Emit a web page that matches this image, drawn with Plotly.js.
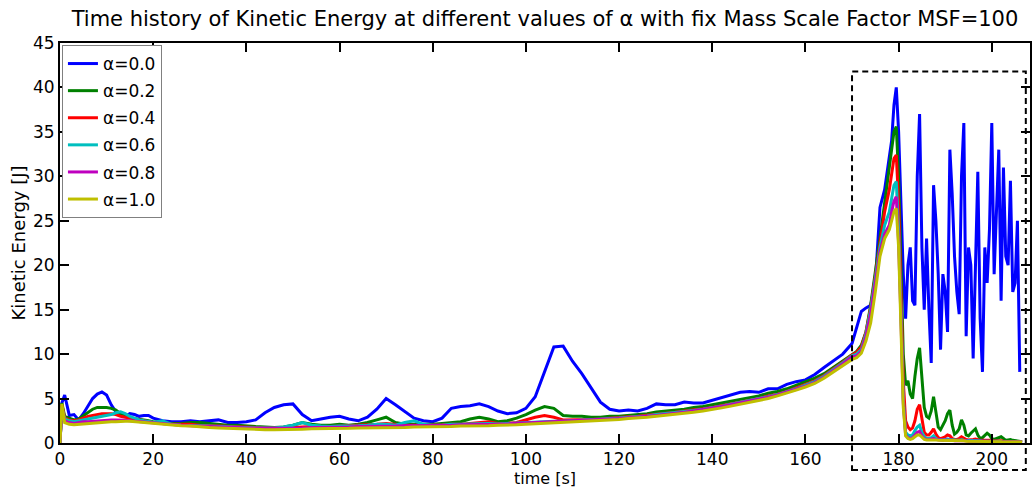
<!DOCTYPE html>
<html>
<head>
<meta charset="utf-8">
<script src="https://cdn.plot.ly/plotly-3.0.1.min.js"></script>
<style>html,body{margin:0;padding:0;background:#fff;}#chart{width:1032px;height:487px;}</style>
</head>
<body>
<div id="chart"></div>
<script>
// time [s]
var time = [0,0.4,1,2,3,4,5,6,7,8,9,10,11,12,13,14,15,16,17,18,19,20,
22,24,26,28,30,32,34,36,38,40,42,44,46,48,50,52,54,56,58,60,62,64,66,68,70,72,74,76,78,80,
82,84,86,88,90,92,94,96,98,100,102,104,106,108,110,112,114,116,118,120,122,124,126,128,130,
132,134,136,138,140,142,144,146,148,150,152,154,156,158,160,162,164,166,168,170,
171,172,173,174,175,176,177,178,
178.5,179,179.5,180,180.5,181,181.5,182,182.5,183,183.5,184,184.5,185,185.5,186,186.5,187,187.5,
188,188.5,189,189.5,190,190.5,191,191.5,192,192.5,193,193.5,194,194.5,195,195.5,196,196.5,197,
197.5,198,198.5,199,199.5,200,200.5,201,201.5,202,202.5,203,203.5,204,204.5,205,205.5,206,206.5];

var ke00 = [0,4.5,5.4,3.1,3.2,2.6,3.3,4.2,5.0,5.5,5.75,5.4,4.3,3.5,3.2,3.0,3.3,3.2,3.0,3.1,3.1,2.8,
2.5,2.4,2.4,2.5,2.4, 2.5,2.6,2.3,2.3,2.4, 2.6,3.4,4.0,4.3,4.4, 3.2,2.5,2.7,2.9,3.0, 2.7,2.5,2.9,3.8,5.0,
4.3,3.6,2.8,2.5,2.4, 2.8,3.9,4.1,4.2,4.4, 4.1,3.6,3.3,3.4,3.9, 5.2,8.1,10.8,10.9,9.2, 7.8,6.2,4.6,3.8,3.6,
3.7,3.6,3.9,4.4,4.3, 4.3,4.6,4.5,4.5,4.8, 5.1,5.4,5.7,5.8,5.7, 6.1,6.1,6.6,6.9,7.1, 7.7,8.5,9.2,10.0,11.2,
13,14.8,15.2,15.5,18,26.5,28.5,32,
34,38,40,35,27,19,14,20,22,16,15.5,30,37,22,15,23,15,9,29,25,19,10.5,19,17,12.5,33,28,21,17,14.5,
30,36,12,22,20,9.5,20,30.5,14,8,22,18,24,36,19,26,33,16,31,21,20,29.5,17,18,25,8,null];

var ke02 = [0,4.5,3.0,2.8,2.6,2.7,3.1,3.5,3.8,4.0,4.0,4.0,3.9,3.7,3.3,3.0,2.8,2.75,2.7,2.6,2.5,2.4,
2.3,2.2,2.2,2.3,2.3, 2.2,2.1,2.0,2.0,1.9, 1.85,1.8,1.75,1.8,2.0, 2.3,2.1,2.0,2.0,2.1, 2.0,2.1,2.3,2.6,2.9,
2.3,2.1,2.1,2.1,2.1, 2.2,2.3,2.4,2.7,2.9, 2.7,2.4,2.5,2.8,3.2, 3.7,4.1,3.9,3.1,3.0, 3.0,2.9,2.9,3.0,3.0,
3.1,3.2,3.3,3.5,3.6, 3.7,3.8,4.0,4.1,4.3, 4.5,4.7,4.9,5.1,5.3, 5.6,5.8,6.1,6.5,6.9, 7.3,7.8,8.5,9.3,10.0,
10.3,11,12.5,15.5,19,23,27,31,
33.5,35,35.6,30,20,10,6.5,7,5.5,5,7.5,9.5,10.7,7,4,3,2.8,3.6,5.2,3.5,1.8,1.5,2,2.5,3.3,3.7,2,1,1.2,1.6,
2.6,2,0.9,0.8,1.1,1.4,1.6,0.9,0.5,0.6,0.8,1.1,0.9,0.5,0.4,0.5,0.6,0.7,0.5,0.3,0.35,0.4,0.3,0.25,0.25,0.2,0.15];

var ke04 = [0,4.3,2.8,2.6,2.5,2.6,2.8,3.0,3.1,3.2,3.3,3.3,3.3,3.2,3.0,2.9,2.8,2.7,2.6,2.5,2.4,2.3,
2.2,2.1,2.1,2.1,2.0, 1.95,1.9,1.85,1.8,1.8, 1.75,1.7,1.7,1.7,1.75, 1.8,1.85,1.8,1.85,1.9, 1.9,1.95,2.0,2.1,2.2,
2.1,2.0,2.0,2.0,2.0, 2.05,2.1,2.1,2.2,2.3, 2.4,2.2,2.2,2.3,2.6, 2.9,3.1,2.9,2.6,2.6, 2.6,2.65,2.7,2.8,2.85,
2.95,3.0,3.1,3.25,3.35, 3.45,3.6,3.7,3.85,4.0, 4.2,4.4,4.6,4.8,5.0, 5.3,5.5,5.8,6.2,6.6, 7.0,7.6,8.3,9.1,9.9,
10.2,10.8,12.5,15.2,19,22.5,26,28.5,
30.5,32,32.4,27,17,7,2.5,1.8,1.5,1.7,2.5,3.8,4.3,2.5,1.2,0.9,0.9,1.2,1.6,1.0,0.6,0.5,0.6,0.7,0.9,0.8,0.5,0.4,0.4,0.5,
0.7,0.5,0.4,0.35,0.35,0.4,0.45,0.35,0.3,0.3,0.3,0.35,0.3,0.25,0.25,0.25,0.3,0.25,0.2,0.2,0.2,0.2,0.2,0.15,0.15,0.15,0.1];

var ke06 = [0,4.0,2.7,2.5,2.4,2.5,2.6,2.7,2.8,2.9,3.0,3.1,3.2,3.4,3.5,3.3,3.0,2.8,2.6,2.5,2.4,2.35,
2.5,2.1,2.0,2.0,1.95, 1.9,1.85,1.8,1.75,1.75, 1.7,1.7,1.7,1.8,2.0, 2.3,2.0,1.9,1.85,1.9, 1.9,1.95,2.0,2.1,2.1,
2.0,2.3,2.5,2.1,2.0, 2.0,2.1,2.1,2.15,2.2, 2.2,2.15,2.2,2.25,2.35, 2.4,2.45,2.45,2.45,2.5, 2.55,2.6,2.65,2.7,2.8,
2.9,2.95,3.05,3.2,3.3, 3.4,3.55,3.65,3.8,3.95, 4.15,4.35,4.55,4.75,4.95, 5.2,5.45,5.75,6.1,6.5, 6.9,7.5,8.2,9.0,9.8,
10,10.5,12.3,15,18.5,22,24.5,26,
27.5,29,29.4,24,15,5,1.2,0.9,0.8,0.9,1.4,1.8,2.0,1.2,0.7,0.5,0.5,0.6,0.8,0.5,0.4,0.35,0.35,0.4,0.45,0.4,0.35,0.3,0.3,0.3,
0.35,0.3,0.3,0.25,0.25,0.3,0.3,0.25,0.25,0.2,0.2,0.25,0.2,0.2,0.2,0.2,0.2,0.15,0.15,0.15,0.15,0.15,0.15,0.1,0.1,0.1,0.1];

var ke08 = [0,4.0,2.5,2.3,2.2,2.3,2.4,2.4,2.45,2.5,2.5,2.55,2.6,2.6,2.6,2.55,2.5,2.45,2.4,2.35,2.3,2.25,
2.15,2.05,2.0,1.95,1.9, 1.85,1.8,1.75,1.7,1.7, 1.65,1.65,1.65,1.65,1.7, 1.7,1.75,1.75,1.8,1.8, 1.8,1.85,1.85,1.9,1.9,
1.9,1.95,1.95,1.95,2.0, 2.0,2.0,2.05,2.05,2.1, 2.1,2.1,2.15,2.2,2.25, 2.3,2.35,2.4,2.4,2.45, 2.5,2.55,2.6,2.65,2.75,
2.85,2.9,3.0,3.1,3.2, 3.35,3.45,3.6,3.75,3.9, 4.1,4.3,4.5,4.7,4.9, 5.15,5.4,5.7,6.05,6.4, 6.8,7.4,8.1,8.9,9.7,
9.8,10.3,12,14.5,18,21.5,23.5,24.5,
26,27.2,27.7,22.5,14,4.5,0.9,0.6,0.5,0.6,0.9,1.2,1.3,0.8,0.5,0.4,0.4,0.45,0.5,0.4,0.35,0.3,0.3,0.35,0.35,0.3,0.3,0.25,0.25,0.25,
0.3,0.25,0.25,0.2,0.2,0.25,0.25,0.2,0.2,0.2,0.2,0.2,0.15,0.15,0.15,0.15,0.15,0.15,0.1,0.1,0.1,0.1,0.1,0.1,0.1,0.1,0.1];

var ke10 = [0,4.4,2.3,2.1,2.05,2.1,2.15,2.2,2.25,2.3,2.3,2.35,2.4,2.4,2.45,2.45,2.45,2.4,2.35,2.3,2.25,2.2,
2.1,2.0,1.95,1.9,1.8, 1.75,1.7,1.65,1.6,1.55, 1.5,1.5,1.5,1.5,1.55, 1.55,1.6,1.6,1.6,1.65, 1.65,1.7,1.7,1.7,1.75,
1.75,1.75,1.8,1.8,1.8, 1.85,1.85,1.9,1.9,1.95, 1.95,2.0,2.0,2.05,2.1, 2.15,2.2,2.25,2.3,2.35, 2.4,2.45,2.5,2.6,2.65,
2.75,2.8,2.9,3.0,3.1, 3.2,3.3,3.45,3.6,3.75, 3.95,4.15,4.35,4.55,4.75, 5.0,5.3,5.6,5.95,6.3, 6.7,7.3,8.0,8.8,9.4,
9.6,10.1,11.5,13.5,17,21,23,24,
25,26,26.4,22,13,4,0.8,0.5,0.4,0.5,0.7,0.9,0.9,0.6,0.4,0.35,0.35,0.4,0.4,0.35,0.3,0.3,0.3,0.3,0.3,0.3,0.25,0.25,0.25,0.25,
0.25,0.25,0.2,0.2,0.2,0.2,0.2,0.2,0.2,0.2,0.15,0.15,0.15,0.15,0.15,0.15,0.15,0.15,0.1,0.1,0.1,0.1,0.1,0.1,0.1,0.1,0.1];

var seriesNames = ['α=0.0','α=0.2','α=0.4','α=0.6','α=0.8','α=1.0'];
var seriesValues = [ke00, ke02, ke04, ke06, ke08, ke10];
var seriesColors = ['#0000FF','#008000','#FF0000','#00BFBF','#BF00BF','#BFBF00'];

var xTicks = [0,20,40,60,80,100,120,140,160,180,200];
var yTicks = [0,5,10,15,20,25,30,35,40,45];
var xRange = [0, 208.2];
var yRange = [0, 45];
var xTitle = 'time [s]';
var yTitle = 'Kinetic Energy [J]';

// highlighted window (data units)
var boxT = [170, 207.3];
var boxE = [-3.05, 41.8];

var traces = seriesValues.map(function(v, i){
  return {
    x: time, y: v, type: 'scatter', mode: 'lines',
    name: seriesNames[i], legendgroup: 'g' + i,
    line: {color: seriesColors[i], width: 3},
    connectgaps: false, hoverinfo: 'skip'
  };
});

function px(t){ return (t - xRange[0]) / (xRange[1] - xRange[0]); }
function py(e){ return (e - yRange[0]) / (yRange[1] - yRange[0]); }

var axisCommon = {
  showline: true, linecolor: '#000', linewidth: 2, mirror: 'ticks',
  ticks: 'inside', ticklen: 9, tickwidth: 2, tickcolor: '#000',
  showgrid: false, zeroline: false, fixedrange: true,
  tickfont: {size: 17, color: '#000'}
};

var layout = {
  width: 1032, height: 487,
  margin: {l: 60, r: 2, t: 43, b: 44},
  paper_bgcolor: '#fff', plot_bgcolor: '#fff',
  font: {family: 'DejaVu Sans, Liberation Sans, sans-serif', color: '#000', size: 17},
  title: {text: 'Time history of Kinetic Energy at different values of α with fix Mass Scale Factor MSF=100',
          font: {size: 21, color: '#000'}, x: 0.5, xref: 'paper', xanchor: 'center',
          y: 1 - 19/487, yref: 'container', yanchor: 'middle'},
  xaxis: Object.assign({}, axisCommon, {range: xRange, tickvals: xTicks}),
  yaxis: Object.assign({}, axisCommon, {range: yRange, tickvals: yTicks,
          title: {text: yTitle, font: {size: 18}, standoff: 3}}),
  annotations: [{text: xTitle, xref: 'paper', yref: 'paper', x: 0.5, y: -0.089,
                 xanchor: 'center', yanchor: 'middle', showarrow: false,
                 font: {size: 16, color: '#000'}}],
  showlegend: true,
  legend: {x: 0.002, y: 0.995, xanchor: 'left', yanchor: 'top',
           bgcolor: '#fff', bordercolor: '#808080', borderwidth: 1,
           font: {size: 17, color: '#000'}, traceorder: 'grouped', tracegroupgap: 2},
  shapes: [{type: 'rect', xref: 'paper', yref: 'paper',
            x0: px(boxT[0]), x1: px(boxT[1]), y0: py(boxE[0]), y1: py(boxE[1]),
            line: {color: '#000', width: 2, dash: '6px,4px'}, fillcolor: 'rgba(0,0,0,0)', layer: 'above'}]
};

Plotly.newPlot('chart', traces, layout, {displayModeBar: false, staticPlot: true});
</script>
</body>
</html>
